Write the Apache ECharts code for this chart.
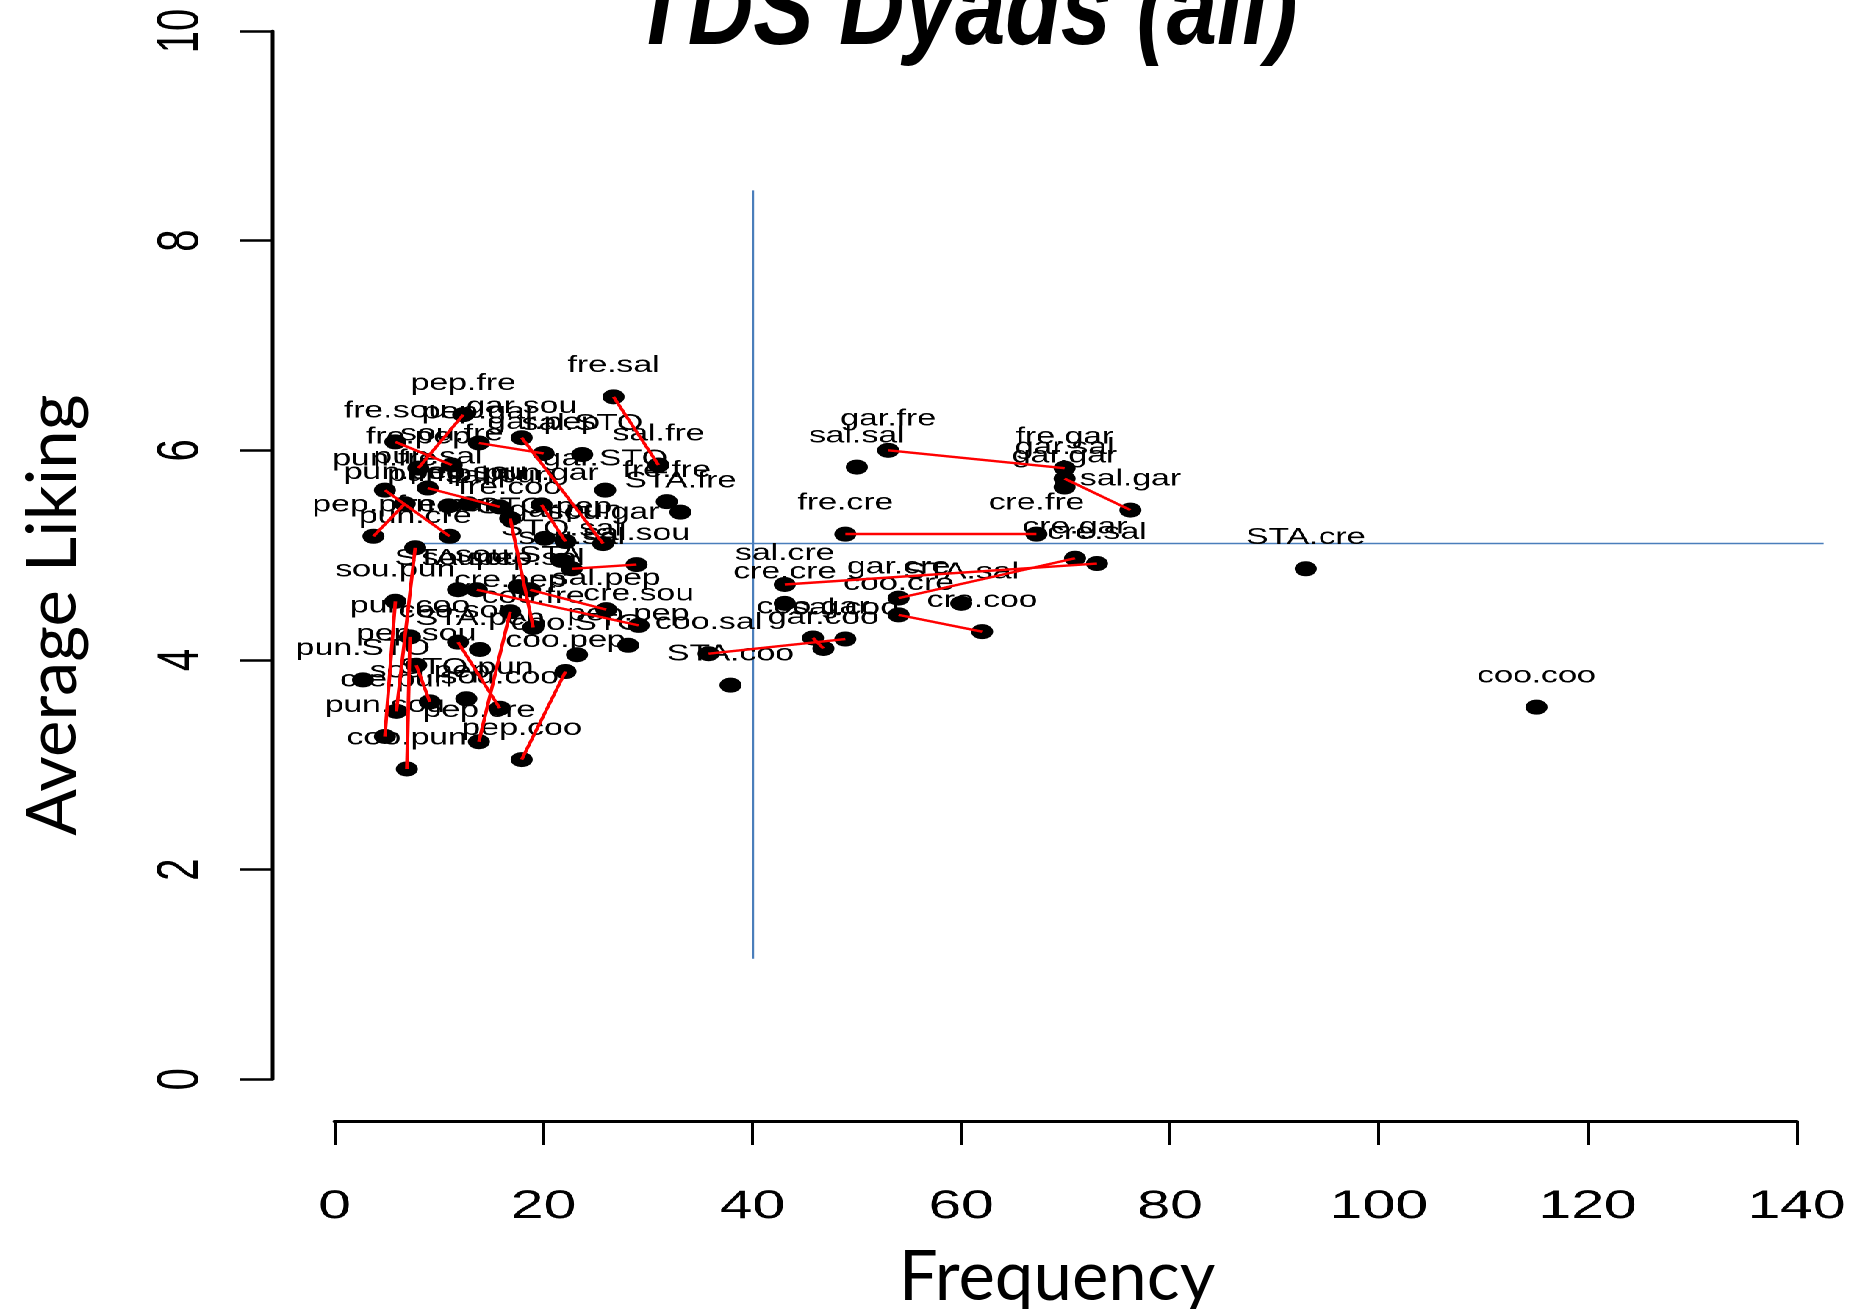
<!DOCTYPE html>
<html>
<head>
<meta charset="utf-8">
<title>TDS Dyads (all)</title>
<script src="https://cdn.jsdelivr.net/npm/echarts@6/dist/echarts.min.js"></script>
<style>
  html, body { margin: 0; padding: 0; background: #fff; }
  #wrap { position: relative; width: 1868px; height: 1309px; overflow: hidden; background: #fff; }
  /* the plot panel is drawn narrower and stretched sideways, like the slide it came from */
  #plot { position: absolute; left: 0; top: 0; width: 1271px; height: 1309px;
          transform: scaleX(1.46971); transform-origin: 0 0; }
  #titles { position: absolute; left: 0; top: 0; width: 1868px; height: 1309px; pointer-events: none; }
</style>
</head>
<body>
<div id="wrap">
  <div id="plot"></div>
  <div id="titles"></div>
</div>
<script>
// dyad codes (first item . second item)
const dyads = [
  'coo.coo', 'STA.cre', 'sal.gar', 'fre.gar', 'gar.sal', 'gar.gar', 'gar.fre', 'sal.sal',
  'fre.cre', 'cre.fre', 'cre.gar', 'cre.sal', 'gar.cre', 'coo.cre', 'cre.coo', 'STA.sal',
  'sal.cre', 'cre.cre', 'coo.sal', 'sal.coo', 'coo.gar', 'gar.coo', 'STA.coo', 'fre.fre',
  'STA.fre', 'fre.sal', 'sal.fre', 'pep.fre', 'fre.pep', 'fre.sou', 'sou.fre', 'pep.gar',
  'gar.pep', 'gar.sou', 'sou.gar', 'sal.STO', 'gar.STO', 'pun.sal', 'sal.pun', 'pun.fre',
  'fre.pun', 'pep.pun', 'pun.pep', 'pun.pun', 'sou.sou', 'pun.gar', 'gar.pun', 'STO.pep',
  'fre.coo', 'coo.fre', 'STO.sal', 'sou.sal', 'sal.sou', 'pun.cre', 'cre.pun', 'pun.coo',
  'coo.pun', 'sou.pun', 'pun.sou', 'pep.sou', 'sou.pep', 'pun.STO', 'STO.pun', 'coo.sou',
  'sou.coo', 'cre.pep', 'pep.cre', 'coo.pep', 'pep.coo', 'STA.pep', 'coo.STO', 'pep.pep',
  'sal.pep', 'pep.sal', 'sou.STA', 'sou.cre', 'cre.sou', 'STA.sou'
];

// how often each dyad occurred
const frequency = [
  115.1, 93.0, 76.2, 69.9, 69.9, 69.9, 53.0, 50.0,
  48.9, 67.2, 70.9, 73.0, 54.0, 54.0, 62.0, 60.0,
  43.1, 43.1, 35.8, 48.9, 45.8, 46.8, 37.9, 31.8,
  33.1, 26.7, 31.0, 12.3, 8.0, 5.8, 11.2, 13.8,
  20.0, 17.9, 25.7, 23.7, 25.9, 8.9, 15.8, 4.8,
  11.0, 3.7, 6.7, 10.9, 12.8, 19.8, 22.1, 20.1,
  16.8, 19.0, 21.7, 22.7, 28.9, 7.7, 5.9, 7.2,
  6.9, 5.8, 4.8, 7.8, 9.1, 2.7, 12.6, 11.8,
  15.8, 16.8, 13.8, 22.1, 17.9, 13.9, 23.2, 28.1,
  26.0, 18.7, 17.6, 13.6, 29.1, 11.8
];

// mean liking score of each dyad
const liking = [
  3.55, 4.87, 5.43, 5.83, 5.73, 5.65, 6.00, 5.84,
  5.20, 5.20, 4.97, 4.92, 4.59, 4.43, 4.27, 4.54,
  4.72, 4.54, 4.06, 4.20, 4.21, 4.11, 3.76, 5.51,
  5.41, 6.51, 5.86, 6.34, 5.83, 6.08, 5.86, 6.07,
  5.97, 6.12, 5.11, 5.96, 5.62, 5.64, 5.46, 5.62,
  5.18, 5.18, 5.49, 5.47, 5.49, 5.48, 5.13, 5.16,
  5.35, 4.31, 4.95, 4.87, 4.91, 5.07, 3.51, 4.22,
  2.96, 4.56, 3.27, 3.95, 3.60, 3.81, 3.63, 4.17,
  3.54, 4.46, 3.22, 3.89, 3.05, 4.10, 4.05, 4.14,
  4.48, 4.67, 4.70, 4.67, 4.33, 4.67
];

// each dyad joined to its reversed order
const pairs = [
  ['fre.sal', 'sal.fre'], ['fre.gar', 'gar.fre'], ['gar.sal', 'sal.gar'], ['fre.cre', 'cre.fre'],
  ['cre.gar', 'gar.cre'], ['cre.sal', 'sal.cre'], ['coo.cre', 'cre.coo'], ['coo.sal', 'sal.coo'],
  ['coo.gar', 'gar.coo'], ['pep.fre', 'fre.pep'], ['fre.sou', 'sou.fre'], ['pep.gar', 'gar.pep'],
  ['gar.sou', 'sou.gar'], ['pun.sal', 'sal.pun'], ['pun.fre', 'fre.pun'], ['pep.pun', 'pun.pep'],
  ['pun.gar', 'gar.pun'], ['fre.coo', 'coo.fre'], ['sou.sal', 'sal.sou'], ['pun.cre', 'cre.pun'],
  ['pun.coo', 'coo.pun'], ['sou.pun', 'pun.sou'], ['pep.sou', 'sou.pep'], ['coo.sou', 'sou.coo'],
  ['cre.pep', 'pep.cre'], ['coo.pep', 'pep.coo'], ['pep.sal', 'sal.pep'], ['sou.cre', 'cre.sou']
];

// reference lines: frequency cut and liking cut
const freqCut = 40;
const freqCutSpan = [1.15, 8.48];
const likingCut = 5.11;
const likingCutSpan = [7.68, 142.6];

const xTicks = [0, 20, 40, 60, 80, 100, 120, 140];
const yTicks = [0, 2, 4, 6, 8, 10];

const where = {};
dyads.forEach((d, i) => { where[d] = i; });
const points = dyads.map((d, i) => ({ name: d, value: [frequency[i], liking[i]] }));
const links = pairs.map(([a, b]) => ({
  coords: [[frequency[where[a]], liking[where[a]]], [frequency[where[b]], liking[where[b]]]]
}));
const cutLines = [
  { coords: [[freqCut, freqCutSpan[0]], [freqCut, freqCutSpan[1]]], lineStyle: { width: 1.2 } },
  { coords: [[likingCutSpan[0], likingCut], [likingCutSpan[1], likingCut]], lineStyle: { width: 1.4 } }
];

const plot = echarts.init(document.getElementById('plot'), null, { renderer: 'canvas', devicePixelRatio: 2 });
plot.setOption({
  animation: false,
  backgroundColor: 'transparent',
  grid: { left: 227.8, right: 48.65, top: 31, bottom: 229.7, containLabel: false },
  xAxis: {
    type: 'value', min: xTicks[0], max: xTicks[xTicks.length - 1], interval: xTicks[1] - xTicks[0],
    offset: 41.7,
    axisLine: { show: true, onZero: false, lineStyle: { color: '#000', width: 3 } },
    axisTick: { show: true, length: 24, lineStyle: { color: '#000', width: 2 } },
    axisLabel: { margin: 66, fontSize: 40, color: '#000', fontFamily: 'Liberation Sans' },
    splitLine: { show: false }
  },
  yAxis: {
    type: 'value', min: yTicks[0], max: yTicks[yTicks.length - 1], interval: yTicks[1] - yTicks[0],
    offset: 42.2,
    axisLine: { show: true, onZero: false, lineStyle: { color: '#000', width: 2.5 } },
    axisTick: { show: true, length: 22.5, lineStyle: { color: '#000', width: 2.5 } },
    axisLabel: { rotate: 90, margin: 42, fontSize: 40, color: '#000', fontFamily: 'Liberation Sans' },
    splitLine: { show: false }
  },
  series: [
    {
      type: 'lines', coordinateSystem: 'cartesian2d', data: cutLines, clip: false, silent: true, z: 1,
      lineStyle: { color: '#4a7ebb', opacity: 1 }
    },
    {
      type: 'scatter', data: points, symbol: 'circle', symbolSize: 15, z: 2,
      itemStyle: { color: '#000', opacity: 1 },
      label: {
        show: true, position: 'top', distance: 12, formatter: '{b}',
        fontSize: 23, color: '#000', fontFamily: 'Liberation Sans'
      },
      labelLayout: { hideOverlap: false }
    },
    {
      type: 'lines', coordinateSystem: 'cartesian2d', data: links, z: 3, silent: true,
      lineStyle: { color: '#ff0000', width: 2.4, opacity: 1 }
    }
  ]
});

// slide titles laid over the plot
const titles = echarts.init(document.getElementById('titles'), null, { renderer: 'canvas' });
titles.setOption({
  animation: false,
  graphic: [
    {
      type: 'text', x: 965, y: 14, scaleX: 0.84,
      style: { text: 'TDS Dyads (all)', font: 'italic bold 108px "Liberation Sans"', fill: '#000',
               align: 'center', verticalAlign: 'middle', textAlign: 'center', textVerticalAlign: 'middle' }
    },
    {
      type: 'text', x: 1057, y: 1278,
      style: { text: 'Frequency', font: '69px Lato', fill: '#000',
               align: 'center', verticalAlign: 'middle', textAlign: 'center', textVerticalAlign: 'middle' }
    },
    {
      type: 'text', x: 54, y: 615, rotation: Math.PI / 2,
      style: { text: 'Average Liking', font: '69px Lato', fill: '#000',
               align: 'center', verticalAlign: 'middle', textAlign: 'center', textVerticalAlign: 'middle' }
    }
  ]
});
</script>
</body>
</html>
